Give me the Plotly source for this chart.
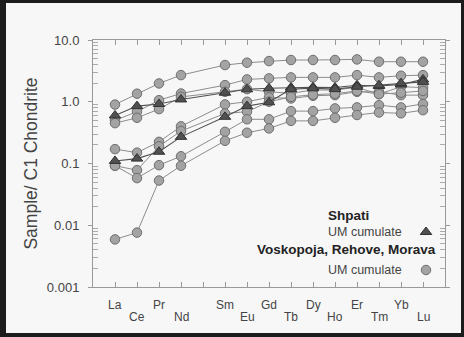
import plotly.graph_objects as go

elements = ["La", "Ce", "Pr", "Nd", "Pm", "Sm", "Eu", "Gd", "Tb", "Dy", "Ho", "Er", "Tm", "Yb", "Lu"]
labels = ["La", "Ce", "Pr", "Nd", "", "Sm", "Eu", "Gd", "Tb", "Dy", "Ho", "Er", "Tm", "Yb", "Lu"]
y_tickvals = [0.001, 0.01, 0.1, 1, 10]
y_ticktext = ["0.001", "0.01", "0.1", "1.0", "10.0"]

# Voskopoja, Rehove, Morava - UM cumulate (circles)
vrm_series = [
    [0.90, 1.35, 1.98, 2.70, None, 3.93, 4.29, 4.56, 4.74, 4.74, 4.74, 4.85, 4.45, 4.45, 4.45],
    [0.50, 0.69, 1.06, 1.36, None, 1.86, 2.30, 2.39, 2.48, 2.48, 2.48, 2.70, 2.48, 2.64, 2.70],
    [0.45, 0.55, 0.76, 1.20, None, 1.45, 1.60, 1.45, 1.37, 1.55, 1.55, 1.71, 1.33, 1.75, 1.70],
    [0.171, 0.15, 0.224, 0.40, None, 0.905, 1.00, 1.18, 1.13, 1.25, 1.28, 1.45, 1.45, 1.28, 1.28],
    [0.092, 0.078, 0.19, 0.335, None, 0.647, 0.69, 1.00, 1.20, 1.30, 1.35, 1.50, 1.33, 1.40, 1.50],
    [0.092, 0.058, 0.094, 0.131, None, 0.326, 0.52, 0.52, 0.705, 0.705, 0.78, 0.81, 0.88, 0.81, 0.92],
    [0.0059, 0.0076, 0.053, 0.092, None, 0.233, 0.315, 0.37, 0.49, 0.49, 0.55, 0.61, 0.67, 0.65, 0.73],
]

# Shpati - UM cumulate (triangles)
shpati_series = [
    [0.60, 0.85, 0.92, 1.09, None, 1.40, 1.59, 1.65, 1.70, 1.72, 1.70, 1.85, 1.80, 1.90, 2.30],
    [0.11, 0.12, 0.155, 0.27, None, 0.57, 0.85, 0.98, 1.60, 1.65, 1.60, 1.75, 1.85, 2.00, 2.10],
]

W, H = 464, 337
ML, MR, MT, MB = 93, 19, 40, 50
PW, PH = W - ML - MR, H - MT - MB

def px_to_paper_x(px):
    return (px - ML) / PW

def py_to_paper_y(py):
    return (H - MB - py) / PH

xpos = list(range(len(elements)))

fig = go.Figure()

for s in vrm_series:
    fig.add_trace(go.Scatter(
        x=xpos, y=s, mode="lines+markers", connectgaps=True, showlegend=False,
        line=dict(color="#8c8c8c", width=1),
        marker=dict(symbol="circle", size=9.5, color="#a3a3a3", line=dict(color="#6e6e6e", width=1)),
    ))

for s in shpati_series:
    fig.add_trace(go.Scatter(
        x=xpos, y=s, mode="lines+markers", connectgaps=True, showlegend=False,
        line=dict(color="#505050", width=1.1),
        marker=dict(symbol="triangle-up", size=10, color="#505050", line=dict(color="#333333", width=1)),
    ))

# legend markers (data coords derived from pixel positions)
def px_to_x(px):
    return (px - ML) / PW * 16 - 1

def py_to_y(py):
    return 10 ** ((H - MB - py) / PH * 4 - 3)

fig.add_trace(go.Scatter(x=[px_to_x(426)], y=[py_to_y(232)], mode="markers", showlegend=False,
                         marker=dict(symbol="triangle-up", size=10, color="#505050", line=dict(color="#333333", width=1))))
fig.add_trace(go.Scatter(x=[px_to_x(426)], y=[py_to_y(270)], mode="markers", showlegend=False,
                         marker=dict(symbol="circle", size=9.5, color="#a3a3a3", line=dict(color="#6e6e6e", width=1))))

annotations = []
for i, lab in enumerate([l for l in labels if l]):
    idx = labels.index(lab)
    annotations.append(dict(
        x=idx, y=0, xref="x", yref="paper", text=lab, showarrow=False,
        yanchor="middle", xanchor="center",
        yshift=-18 if i % 2 == 0 else -30,
        font=dict(family="Liberation Sans, Arial", size=12, color="#444444"),
    ))

leg_font_b = dict(family="Liberation Sans, Arial", size=13.5, color="#222222")
leg_font = dict(family="Liberation Sans, Arial", size=12.5, color="#444444")
annotations += [
    dict(x=px_to_paper_x(326), y=py_to_paper_y(215), xref="paper", yref="paper", text="<b>Shpati</b>",
         showarrow=False, xanchor="left", yanchor="middle", font=leg_font_b),
    dict(x=px_to_paper_x(326), y=py_to_paper_y(232), xref="paper", yref="paper", text="UM cumulate",
         showarrow=False, xanchor="left", yanchor="middle", font=leg_font),
    dict(x=px_to_paper_x(438), y=py_to_paper_y(249), xref="paper", yref="paper", text="<b>Voskopoja, Rehove, Morava</b>",
         showarrow=False, xanchor="right", yanchor="middle", font=leg_font_b),
    dict(x=px_to_paper_x(326), y=py_to_paper_y(270), xref="paper", yref="paper", text="UM cumulate",
         showarrow=False, xanchor="left", yanchor="middle", font=leg_font),
]

border = "#1c1c1c"
shapes = [
    dict(type="rect", xref="paper", yref="paper", layer="above", line=dict(width=0), fillcolor=border,
         x0=px_to_paper_x(0), x1=px_to_paper_x(6), y0=py_to_paper_y(H), y1=py_to_paper_y(0)),
    dict(type="rect", xref="paper", yref="paper", layer="above", line=dict(width=0), fillcolor=border,
         x0=px_to_paper_x(461), x1=px_to_paper_x(W), y0=py_to_paper_y(H), y1=py_to_paper_y(0)),
    dict(type="rect", xref="paper", yref="paper", layer="above", line=dict(width=0), fillcolor=border,
         x0=px_to_paper_x(0), x1=px_to_paper_x(W), y0=py_to_paper_y(3), y1=py_to_paper_y(0)),
    dict(type="rect", xref="paper", yref="paper", layer="above", line=dict(width=0), fillcolor=border,
         x0=px_to_paper_x(0), x1=px_to_paper_x(W), y0=py_to_paper_y(H), y1=py_to_paper_y(333)),
]

minor_vals = [m * 10 ** e for e in range(-3, 1) for m in range(2, 10)]

fig.update_layout(
    width=W, height=H,
    margin=dict(l=ML, r=MR, t=MT, b=MB, pad=0),
    paper_bgcolor="#f7f7f7", plot_bgcolor="#f7f7f7",
    font=dict(family="Liberation Sans, Arial", color="#444444"),
    annotations=annotations, shapes=shapes,
    xaxis=dict(
        range=[-1, 15], tickmode="array", tickvals=xpos, showticklabels=False,
        ticks="inside", ticklen=5, tickcolor="#999999", showgrid=False, zeroline=False,
        showline=True, linecolor="#999999", linewidth=1, mirror="ticks",
    ),
    yaxis=dict(
        type="log", range=[-3, 1], tickmode="array", tickvals=y_tickvals, ticktext=y_ticktext,
        ticks="outside", ticklen=4, tickcolor="#999999", showgrid=False, zeroline=False,
        showline=True, linecolor="#999999", linewidth=1, mirror="ticks",
        tickfont=dict(size=13, color="#444444"), ticklabelstandoff=6,
        minor=dict(tickmode="array", tickvals=minor_vals, ticks="inside", ticklen=5, tickcolor="#aaaaaa", showgrid=False),
        title=dict(text="Sample/ C1 Chondrite", font=dict(size=17.5, color="#444444"), standoff=4),
    ),
)

fig.write_html("out.html")
